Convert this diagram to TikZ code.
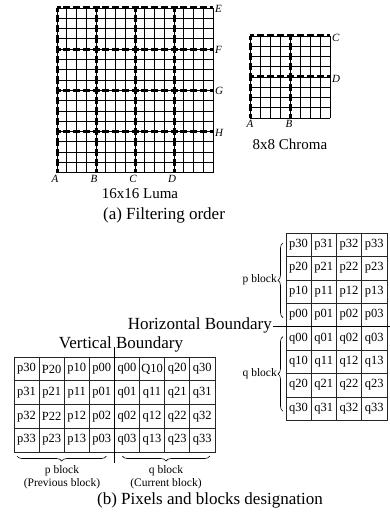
\documentclass[tikz,border=0pt]{standalone}
\usepackage{fontspec}
\setmainfont{Liberation Serif}
\usetikzlibrary{decorations.pathreplacing}
\tikzset{
  base/.style={font=\fontsize{12.5}{14}\selectfont, inner sep=0pt},
  cell/.style={base, rectangle, draw=black!85, line width=0.6pt, outer sep=0pt, minimum width=25.25pt, minimum height=23.4pt},
  vcell/.style={cell, minimum width=25.1pt, minimum height=23.75pt},
  gridline/.style={line width=0.8pt},
  filtline/.style={line width=3pt},
  filth/.style={filtline, dash pattern=on 7pt off 2.75pt, dash phase=3.5pt},
  filtv/.style={filtline, dash pattern=on 7.3pt off 3pt, dash phase=3.65pt},
  cfilth/.style={filtline, dash pattern=on 7pt off 3pt, dash phase=3.5pt},
  cfiltv/.style={filtline, dash pattern=on 7.25pt off 3pt, dash phase=3.6pt},
  bndline/.style={line width=1.6pt},
  ltr/.style={font=\fontsize{11}{12}\selectfont\itshape, inner sep=1pt},
  sizelbl/.style={font=\fontsize{15}{17}\selectfont, inner sep=0pt},
  caption/.style={font=\fontsize{17}{19}\selectfont, inner sep=0pt},
  bndlbl/.style={caption},
  blklbl/.style={font=\fontsize{11.5}{13}\selectfont, align=center, inner sep=0pt},
  brc/.style={decorate, decoration={brace, amplitude=5pt}, line width=0.6pt},
}
\begin{document}
\begin{tikzpicture}[x=1pt, y=-1pt]
  \useasboundingbox (0,0) rectangle (390,513);
  % (a) 16x16 luma
  \foreach \i in {0,...,16}{
    \draw[gridline] (57+\i*9.75,8) -- (57+\i*9.75,173);
    \draw[gridline] (57,8+\i*10.3) -- (213,8+\i*10.3);
  }
  \foreach \i in {0,4,8,12}{
    \draw[filtv] (57+\i*9.75,8) -- (57+\i*9.75,173);
    \draw[filth] (57,8+\i*10.3) -- (213,8+\i*10.3);
  }
  \foreach \l [count=\i from 0] in {A,B,C,D}{
    \node[ltr,anchor=north] (luma\l) at (55+\i*39,174) {\l};
  }
  \foreach \l [count=\i from 0] in {E,F,G,H}{
    \node[ltr,anchor=west] (luma\l) at (214,9+\i*41.2) {\l};
  }
  \node[sizelbl] (lumalbl) at (140,194) {16x16 Luma};
  % 8x8 chroma
  \foreach \i in {0,...,8}{
    \draw[gridline] (250+\i*10,36) -- (250+\i*10,118);
    \draw[gridline] (250,36+\i*10.25) -- (330,36+\i*10.25);
  }
  \foreach \i in {0,4}{
    \draw[cfiltv] (250+\i*10,36) -- (250+\i*10,118);
    \draw[cfilth] (250,36+\i*10.25) -- (330,36+\i*10.25);
  }
  \node[ltr,anchor=north] (chromaA) at (250,119) {A};
  \node[ltr,anchor=north] (chromaB) at (289,119) {B};
  \node[ltr,anchor=west] (chromaC) at (331,38) {C};
  \node[ltr,anchor=west] (chromaD) at (331,79) {D};
  \node[sizelbl] (chromalbl) at (290,144) {8x8 Chroma};
  \node[caption] (capa) at (164,215) {(a) Filtering order};
  % (b) horizontal boundary
  \foreach \row [count=\ri from 0] in {{p30,p31,p32,p33},{p20,p21,p22,p23},{p10,p11,p12,p13},{p00,p01,p02,p03},{q00,q01,q02,q03},{q10,q11,q12,q13},{q20,q21,q22,q23},{q30,q31,q32,q33}}{
    \foreach \t [count=\ci from 0] in \row {
      \node[cell] (h\t) at (298.6+\ci*25.25,244.7+\ri*23.4) {\t};
    }
  }
  \node[bndlbl,anchor=east,inner xsep=1pt] (hbnd) at (273,325.5) {Horizontal Boundary};
  \coordinate (hbndend) at (390,326.6);
  \draw[bndline] (hbnd.east |- hbndend) -- (hbndend);
  \draw[brc] ([shift={(-3,-9)}]hp00.south west) -- ([shift={(-3,10)}]hp30.north west);
  \draw[brc] ([shift={(-3,-9)}]hq30.south west) -- ([shift={(-3,10)}]hq00.north west);
  \node[blklbl,anchor=east] (hpblk) at (277,280) {p block};
  \node[blklbl,anchor=east] (hqblk) at (277,374) {q block};
  % (b) vertical boundary
  \foreach \row [count=\ri from 0] in {{p30,P20,p10,p00,q00,Q10,q20,q30},{p31,p21,p11,p01,q01,q11,q21,q31},{p32,P22,p12,p02,q02,q12,q22,q32},{p33,p23,p13,p03,q03,q13,q23,q33}}{
    \foreach \t [count=\ci from 0] in \row {
      \node[vcell] (v\ri c\ci) at (26.55+\ci*25.1,368.9+\ri*23.75) {\t};
    }
  }
  \node[bndlbl] (vbnd) at (121,344) {Vertical Boundary};
  \coordinate (vbndtop) at (114.4,347);
  \coordinate (vbndbot) at (114.4,463);
  \draw[bndline] (vbndtop) -- (vbndbot);
  \draw[brc] ([shift={(-8,4)}]v3c3.south east) -- ([shift={(3,4)}]v3c0.south west);
  \draw[brc] ([shift={(-5,4)}]v3c7.south east) -- ([shift={(8,4)}]v3c4.south west);
  \node[blklbl] (vpblk) at (62,477) {p block\\(Previous block)};
  \node[blklbl] (vqblk) at (166,477) {q block\\(Current block)};
  \node[caption] (capb) at (210,500) {(b) Pixels and blocks designation};
\end{tikzpicture}
\end{document}
